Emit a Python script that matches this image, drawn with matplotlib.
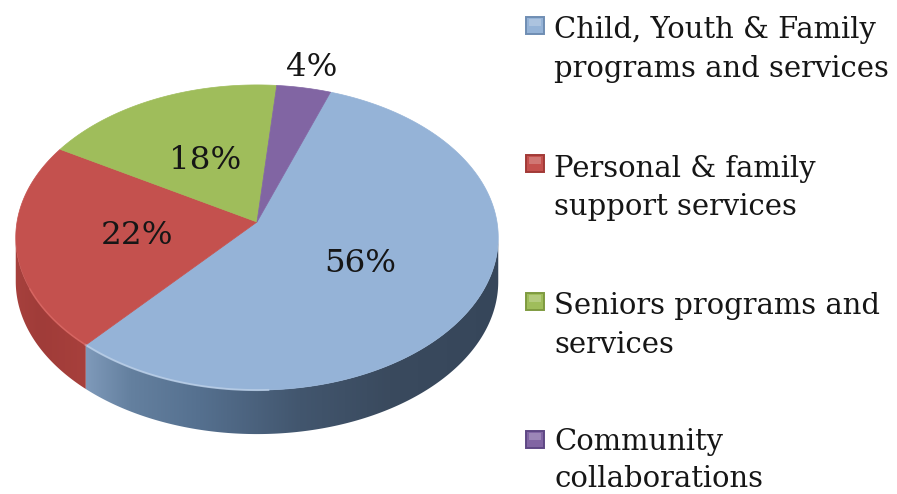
import numpy as np
import matplotlib
matplotlib.use("Agg")
import matplotlib.pyplot as plt
from matplotlib.patches import Polygon, Rectangle

categories = ["Child, Youth & Family\nprograms and services",
              "Personal & family\nsupport services",
              "Seniors programs and\nservices",
              "Community\ncollaborations"]
values = [56, 22, 18, 4]
value_labels = ["56%", "22%", "18%", "4%"]
colors = ["#95b3d7", "#c4514e", "#9fbd5b", "#8165a3"]
edge_dark = ["#6f8db3", "#a23a37", "#7f9b40", "#5f4885"]

plt.rcParams["font.family"] = ["DejaVu Serif"]
FS = 20.9
TXT = "#161616"

fig = plt.figure(figsize=(8.97, 4.94), dpi=100)
ax = fig.add_axes([0, 0, 1, 1])

# pie computes the wedge angles from the values
wedges, _ = ax.pie(values, startangle=70.4, counterclock=False, normalize=True)
angles = [(w.theta1, w.theta2) for w in wedges]
for w in wedges:
    w.remove()
ax.set_xlim(0, 897)
ax.set_ylim(494, 0)
ax.set_aspect("auto")
ax.axis("off")

# perspective projection of the unit disc on to the page
CX, CY, B, A, K, DEPTH = 257, 222, 240, 151, 0.1016, 44


def project(t):
    t = np.radians(t)
    u, v = np.cos(t), np.sin(t)
    w = 1 + K * v
    return CX + B * u / w, CY - A * v / w


def shade(x0, x1, y0, y1, xs, cols, poly, z):
    n = 300
    pos = np.linspace(x0, x1, n)
    rgb = np.array([matplotlib.colors.to_rgb(c) for c in cols])
    img = np.stack([np.interp(pos, xs, rgb[:, i]) for i in range(3)], axis=-1)[None, :, :]
    im = ax.imshow(img, extent=(x0, x1, y1, y0), aspect="auto", zorder=z, interpolation="bilinear")
    patch = Polygon(poly, closed=True, transform=ax.transData, fc="none", ec="none")
    ax.add_patch(patch)
    im.set_clip_path(patch)


# visible rim of the disc: the lower half, left extreme to right extreme
ts = np.linspace(0, 360, 1441)
xs_all, _ = project(ts)
tleft = ts[np.argmin(xs_all)]
tright = ts[np.argmax(xs_all)]


def rim(t0, t1):
    t = np.linspace(t0, t1, 300)
    x, y = project(t)
    top = np.column_stack([x, y])
    bot = np.column_stack([x, y + DEPTH])[::-1]
    return np.vstack([top, bot]), top


blue_start = angles[0][0] % 360
red_poly, red_top = rim(tleft, blue_start)
blue_poly, blue_top = rim(blue_start, tright)

shade(10, 90, 200, 445, [10, 40, 90], ["#a8423e", "#a03c39", "#a8403c"], red_poly, 2)
shade(80, 505, 200, 445, [85, 130, 200, 300, 390, 505],
      ["#7f9aba", "#64809f", "#55708f", "#42566e", "#3a4a5e", "#36465a"], blue_poly, 2)

# top faces
for (t1, t2), col in zip(angles, colors):
    t = np.linspace(t1, t2, 200)
    x, y = project(t)
    pts = np.vstack([[CX, CY], np.column_stack([x, y])])
    ax.add_patch(Polygon(pts, closed=True, fc=col, ec=col, lw=0.5, zorder=3))

# soft highlight along the front edge
hl = blue_top[blue_top[:, 0] < 270]
ax.plot(hl[:, 0], hl[:, 1], color="#bcd0e8", lw=1.4, alpha=0.8, zorder=4)
rl = red_top[red_top[:, 0] > 30]
ax.plot(rl[:, 0], rl[:, 1], color="#dd6a66", lw=1.2, alpha=0.7, zorder=4)

# value labels
label_pos = [(360, 263), (137, 235), (205, 160), (312, 67)]
for txt, (x, y) in zip(value_labels, label_pos):
    ax.text(x, y, txt, ha="center", va="center", fontsize=23.4, color=TXT, zorder=5)

# legend
marker_y = [25, 163, 301, 439]
baselines = [(38, 77), (177, 215), (314, 353), (450, 487)]
for cat, col, dk, y, (b1, b2) in zip(categories, colors, edge_dark, marker_y, baselines):
    ax.add_patch(Rectangle((526, y - 8), 18, 17, fc=col, ec=dk, lw=1.4, zorder=5))
    ax.add_patch(Rectangle((529, y - 6), 12, 7, fc="white", ec="none", alpha=0.22, zorder=6))
    l1, l2 = cat.split("\n")
    ax.text(554, b1, l1, ha="left", va="baseline", fontsize=FS, color=TXT)
    ax.text(554, b2, l2, ha="left", va="baseline", fontsize=FS, color=TXT)

fig.savefig("out.png", dpi=100, facecolor="white")
